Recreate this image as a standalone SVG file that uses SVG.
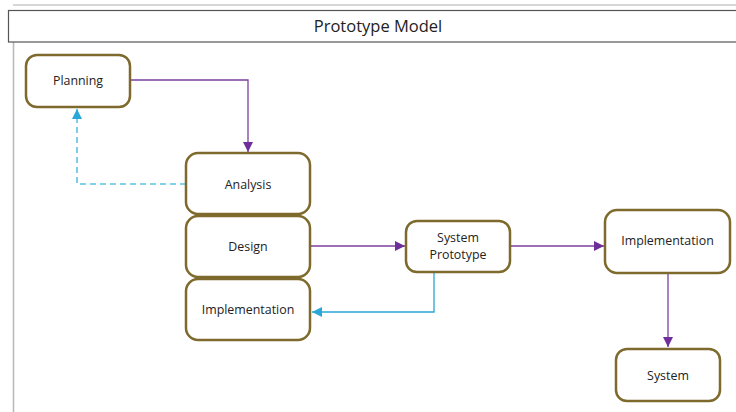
<svg xmlns="http://www.w3.org/2000/svg" width="736" height="412" viewBox="0 0 736 412">
<style>
.node rect{fill:#fff;stroke:#7d6a2c;stroke-width:2.5}
.node text{font-family:"Open Sans","Liberation Sans",sans-serif;font-size:12.4px;fill:#222;text-anchor:middle}
.purple{fill:none;stroke:#7b3f9e;stroke-width:1.3}
.cyan{fill:none;stroke:#2aa6d6;stroke-width:1.3}
.dash{fill:none;stroke:#5cc3e0;stroke-width:1.6;stroke-dasharray:6 4}
</style>
<defs>
<marker id="ap" viewBox="0 0 10 10" refX="10" refY="5" markerWidth="10" markerHeight="10" markerUnits="userSpaceOnUse" orient="auto"><path d="M0,0 L10,5 L0,10 z" fill="#6f2f9a"/></marker>
<marker id="ac" viewBox="0 0 10 10" refX="10" refY="5" markerWidth="10" markerHeight="10" markerUnits="userSpaceOnUse" orient="auto"><path d="M0,0 L10,5 L0,10 z" fill="#29a8d8"/></marker>
</defs>
<rect width="736" height="412" fill="#fff"/>
<g id="frame">
<line x1="13" y1="5" x2="736" y2="5" stroke="#c8c8c8" stroke-width="1.5"/>
<line x1="13.5" y1="42" x2="13.5" y2="412" stroke="#b8b8b8" stroke-width="1.5"/>
<rect x="8.5" y="10.5" width="740" height="31.5" fill="#fff" stroke="#555" stroke-width="1.2"/>
<text x="378" y="32" font-family="'Open Sans','Liberation Sans',sans-serif" font-size="16.5" fill="#222" text-anchor="middle">Prototype Model</text>
</g>
<g id="connectors">
<path class="purple" d="M130,80 H248 V152" marker-end="url(#ap)"/>
<path class="dash" d="M186,184 H77 V109" marker-end="url(#ac)"/>
<path class="purple" d="M310,246 H405" marker-end="url(#ap)"/>
<path class="cyan" d="M434,272 V312 H312" marker-end="url(#ac)"/>
<path class="purple" d="M510,246 H604" marker-end="url(#ap)"/>
<path class="purple" d="M668,273 V347" marker-end="url(#ap)"/>
</g>
<g id="planning" class="node"><rect x="26" y="55" width="104" height="52" rx="11"/><text x="78" y="85">Planning</text></g>
<g id="analysis" class="node"><rect x="186" y="153" width="124" height="61" rx="12"/><text x="248" y="189">Analysis</text></g>
<g id="design" class="node"><rect x="186" y="216" width="124" height="61" rx="12"/><text x="248" y="251">Design</text></g>
<g id="implementation1" class="node"><rect x="186" y="279" width="124" height="61" rx="12"/><text x="248" y="314">Implementation</text></g>
<g id="system-prototype" class="node"><rect x="406" y="221" width="104" height="51" rx="11"/><text x="458" y="242">System</text><text x="458" y="259">Prototype</text></g>
<g id="implementation2" class="node"><rect x="605" y="210" width="125" height="63" rx="12"/><text x="667.5" y="245">Implementation</text></g>
<g id="system" class="node"><rect x="616" y="349" width="104" height="52" rx="11"/><text x="668" y="380">System</text></g>
</svg>
